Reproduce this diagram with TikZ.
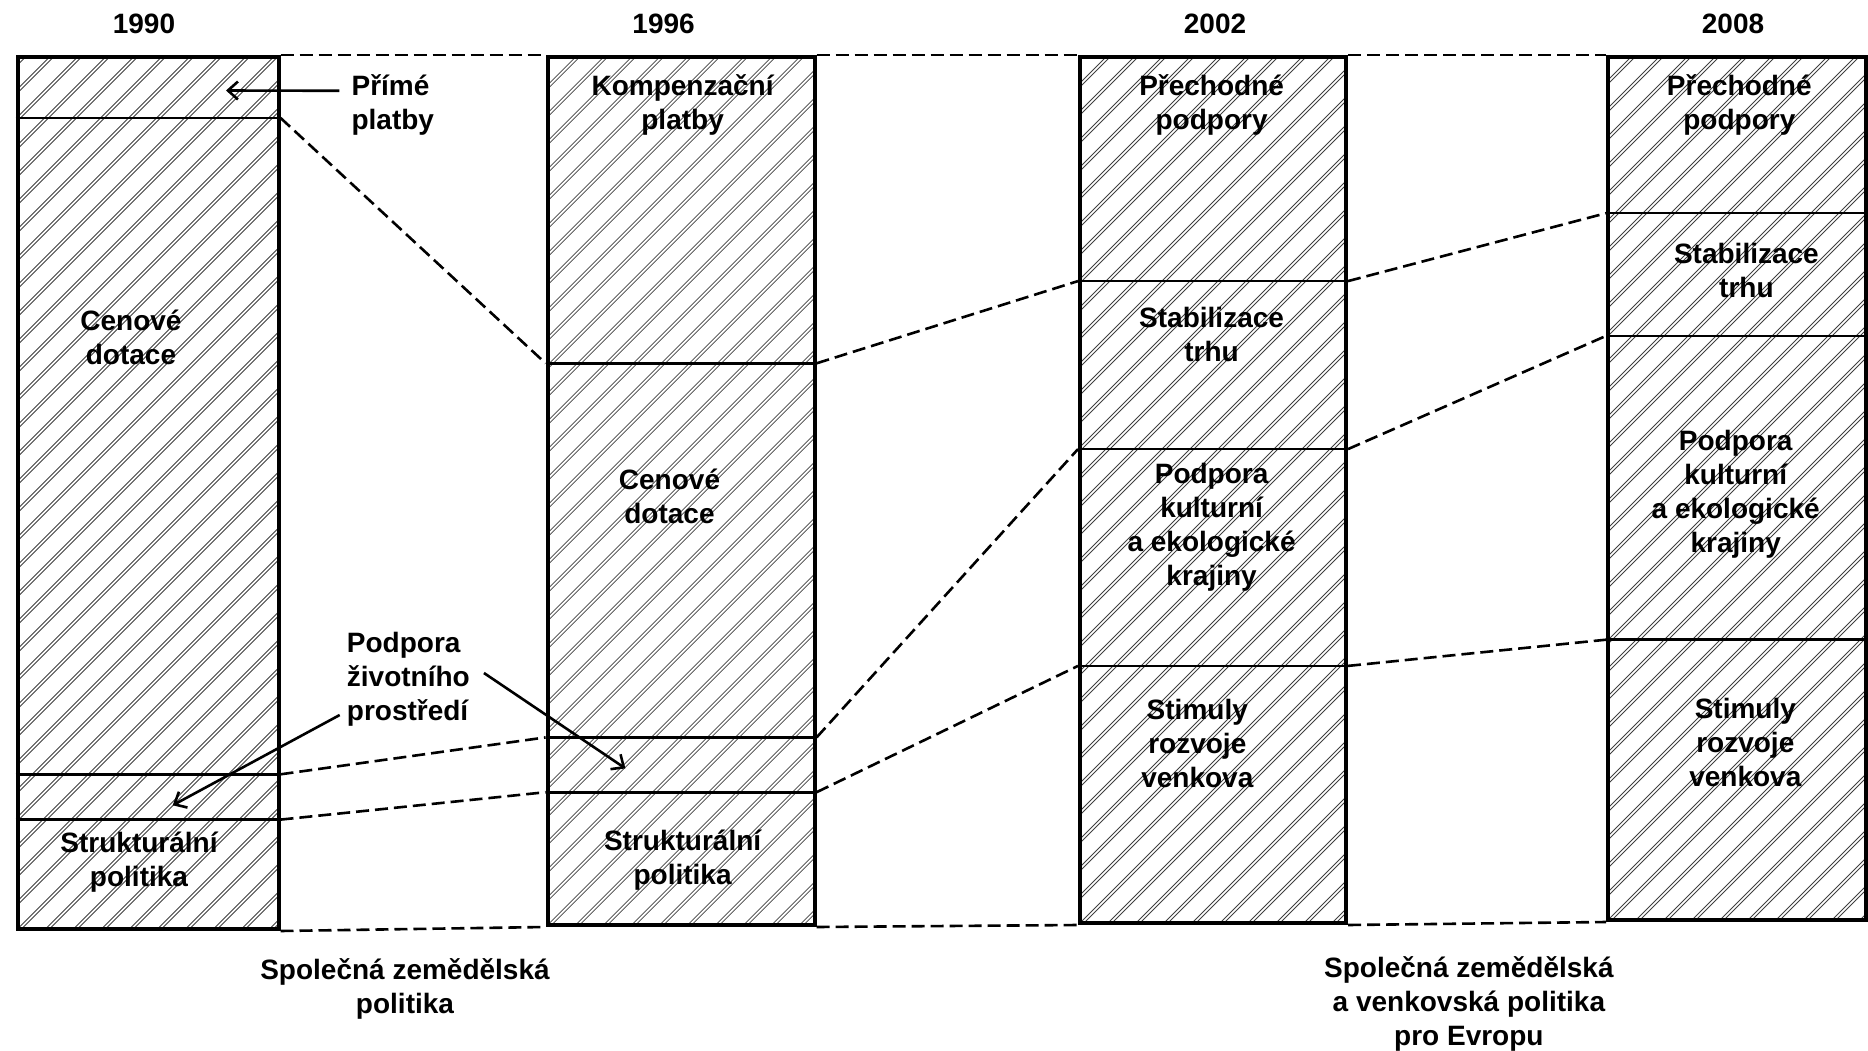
\documentclass[tikz,border=0pt]{standalone}
\usepackage{fontspec}
\setmainfont{Liberation Sans}
\usetikzlibrary{arrows.meta}
\begin{document}
\begin{tikzpicture}[x=1pt,y=-1pt,
  hatchln/.style={line width=0.8pt,black!75},
  colbox/.style={draw,line width=4pt,inner sep=0pt,anchor=north west,
    path picture={
      \foreach \s in {-924,-896,...,300}{\draw[hatchln] ([xshift=\s pt]path picture bounding box.south west) -- ++(950pt,950pt);}
      \foreach \s in {-920,-892,...,304}{\draw[hatchln] ([xshift=\s pt]path picture bounding box.south west) -- ++(950pt,950pt);}
    }},
  divline/.style={line width=2.6pt},
  dashcon/.style={line width=2.6pt,dash pattern=on 13pt off 6pt},
  txt/.style={align=center,inner sep=0pt,font=\fontsize{28}{34}\selectfont\bfseries},
  ltxt/.style={align=left,inner sep=0pt,font=\fontsize{28}{34}\selectfont\bfseries},
  arr/.style={line width=2.6pt,-{Straight Barb[length=10pt,width=18pt]}}
]
\useasboundingbox (0,0) rectangle (1868,1051);

% columns
\node[colbox,minimum width=261pt,minimum height=872pt] (c1) at (15.5,55) {};
\node[colbox,minimum width=267pt,minimum height=868pt] (c2) at (545.6,55) {};
\node[colbox,minimum width=266pt,minimum height=866pt] (c3) at (1078,55) {};
\node[colbox,minimum width=258pt,minimum height=863pt] (c4) at (1606,55) {};

% divider coordinates
\coordinate (c1aw) at (c1.west |- 0,117.9); \coordinate (c1ae) at (c1.east |- 0,117.9);
\coordinate (c1bw) at (c1.west |- 0,774.3); \coordinate (c1be) at (c1.east |- 0,774.3);
\coordinate (c1cw) at (c1.west |- 0,819.6); \coordinate (c1ce) at (c1.east |- 0,819.6);
\coordinate (c2aw) at (c2.west |- 0,363.3); \coordinate (c2ae) at (c2.east |- 0,363.3);
\coordinate (c2bw) at (c2.west |- 0,737.4); \coordinate (c2be) at (c2.east |- 0,737.4);
\coordinate (c2cw) at (c2.west |- 0,792.2); \coordinate (c2ce) at (c2.east |- 0,792.2);
\coordinate (c3aw) at (c3.west |- 0,281.1); \coordinate (c3ae) at (c3.east |- 0,281.1);
\coordinate (c3bw) at (c3.west |- 0,449.1); \coordinate (c3be) at (c3.east |- 0,449.1);
\coordinate (c3cw) at (c3.west |- 0,665.9); \coordinate (c3ce) at (c3.east |- 0,665.9);
\coordinate (c4aw) at (c4.west |- 0,213.2); \coordinate (c4ae) at (c4.east |- 0,213.2);
\coordinate (c4bw) at (c4.west |- 0,335.9); \coordinate (c4be) at (c4.east |- 0,335.9);
\coordinate (c4cw) at (c4.west |- 0,639.7); \coordinate (c4ce) at (c4.east |- 0,639.7);

\foreach \c in {c1,c2,c3,c4}{
  \foreach \d in {a,b,c}{\draw[divline] (\c\d w) -- (\c\d e);}
}

% dashed connectors
\draw[dashcon] (c1.north east) -- (c2.north west);
\draw[dashcon] (c2.north east) -- (c3.north west);
\draw[dashcon] (c3.north east) -- (c4.north west);
\draw[dashcon] (c1.south east) -- (c2.south west);
\draw[dashcon] (c2.south east) -- (c3.south west);
\draw[dashcon] (c3.south east) -- (c4.south west);
\draw[dashcon] (c1ae) -- (c2aw);
\draw[dashcon] (c1be) -- (c2bw);
\draw[dashcon] (c1ce) -- (c2cw);
\draw[dashcon] (c2ae) -- (c3aw);
\draw[dashcon] (c2be) -- (c3bw);
\draw[dashcon] (c2ce) -- (c3cw);
\draw[dashcon] (c3ae) -- (c4aw);
\draw[dashcon] (c3be) -- (c4bw);
\draw[dashcon] (c3ce) -- (c4cw);

% years
\node[txt] (y1990) at (144,24) {1990};
\node[txt] (y1996) at (663.6,24) {1996};
\node[txt] (y2002) at (1215,24) {2002};
\node[txt] (y2008) at (1733,24) {2008};

% column texts
\node[txt] (c1t1) at (131,337) {Cenové\\dotace};
\node[txt] (c1t2) at (139,862.5) {Strukturální\\politika};
\node[txt] (c2t0) at (682.6,104.8) {Kompenzační\\platby};
\node[txt] (c2t1) at (669.5,496.8) {Cenové\\dotace};
\node[txt] (c2t2) at (682.6,860) {Strukturální\\politika};
\node[txt] (c3t0) at (1211.6,104.8) {Přechodné\\podpory};
\node[txt] (c3t1) at (1211.6,334.8) {Stabilizace\\trhu};
\node[txt] (c3t2) at (1211.6,527.7) {Podpora\\kulturní\\a ekologické\\krajiny};
\node[txt] (c3t3) at (1197.3,743.4) {Stimuly\\rozvoje\\venkova};
\node[txt] (c4t0) at (1739.3,104.8) {Přechodné\\podpory};
\node[txt] (c4t1) at (1746.4,270.4) {Stabilizace\\trhu};
\node[txt] (c4t2) at (1735.7,494.4) {Podpora\\kulturní\\a ekologické\\krajiny};
\node[txt] (c4t3) at (1745.3,742.2) {Stimuly\\rozvoje\\venkova};

% outside labels with arrows
\node[ltxt,anchor=west] (pp) at (351.4,104.8) {Přímé\\platby};
\coordinate (pptip) at (226,90.5);
\draw[arr] ([xshift=-12pt,yshift=14pt]pp.west) -- (pptip);

\node[ltxt,anchor=west] (pzp) at (346.7,679) {Podpora\\životního\\prostředí};
\coordinate (pzptip1) at (172.7,805.3);
\coordinate (pzptip2) at (625.4,768.4);
\draw[arr] ([xshift=-7pt,yshift=-36pt]pzp.west) -- (pzptip1);
\draw[arr] ([xshift=14pt,yshift=6pt]pzp.east) -- (pzptip2);

% bottom labels
\node[txt] (scp) at (405,988.8) {Společná zemědělská\\politika};
\node[txt] (svp) at (1468.9,1004.3) {Společná zemědělská\\a venkovská politika\\pro Evropu};
\end{tikzpicture}
\end{document}
